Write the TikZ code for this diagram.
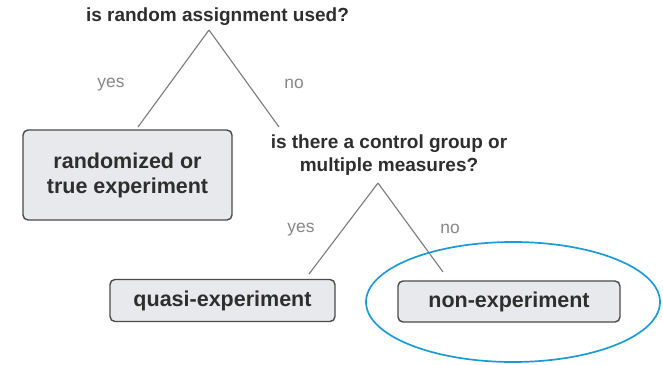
\documentclass[tikz,border=0pt]{standalone}
\usepackage{fontspec}
\setmainfont{Liberation Sans}
\usepackage{tikz}
\usetikzlibrary{positioning}
\definecolor{inkgray}{HTML}{2E2E2E}
\definecolor{stemgray}{HTML}{7A7A7A}
\definecolor{boxfill}{HTML}{E8E9EC}
\definecolor{boxline}{HTML}{4A4A4A}
\definecolor{ringblue}{HTML}{1C9AD6}

\begin{document}
\begin{tikzpicture}
    [
    x=1pt, y=-1pt,
    question/.style={text=inkgray, font=\bfseries\fontsize{19}{23}\selectfont, align=center, inner sep=0pt},
    answer/.style={text=stemgray!90, font=\fontsize{17.4}{20}\selectfont, inner sep=0pt},
    box/.style={rectangle, rounded corners=5pt, draw=boxline, line width=1.4pt, fill=boxfill,
                text=inkgray, font=\bfseries\fontsize{21.5}{25}\selectfont, align=center, inner sep=0pt},
    branch/.style={draw=stemgray, line width=1.1pt},
    ring/.style={draw=ringblue, line width=1.7pt}
    ]
    \useasboundingbox (0,0) rectangle (663,364);

    \node (q1) at (217.5,17) [question] {is random assignment used?};
    \node (q2) at (389,155.5) [question] {is there a control group or\\multiple measures?};

    \node (truexp) at (127.5,175) [box, minimum width=209pt, minimum height=90pt] {randomized or\\true experiment};
    \node (quasi) at (222.5,300.5) [box, minimum width=225pt, minimum height=42pt] {quasi-experiment};
    \node (nonexp) at (509,301.5) [box, minimum width=222pt, minimum height=41pt] {non-experiment};

    \coordinate (top1) at (209,30);
    \coordinate (yes1) at (138,127);
    \coordinate (no1) at (279,127);
    \coordinate (top2) at (378,183);
    \coordinate (yes2) at (309,274);
    \coordinate (no2) at (443,272);
    \draw [branch] (top1) to (yes1);
    \draw [branch] (top1) to (no1);
    \draw [branch] (top2) to (yes2);
    \draw [branch] (top2) to (no2);

    \node (y1) at (111,85) [answer] {yes};
    \node (n1) at (294,84) [answer] {no};
    \node (y2) at (301,230) [answer] {yes};
    \node (n2) at (450,229) [answer] {no};

    \draw [ring] (513,302) ellipse [x radius=147, y radius=60];
  \end{tikzpicture}
\end{document}
